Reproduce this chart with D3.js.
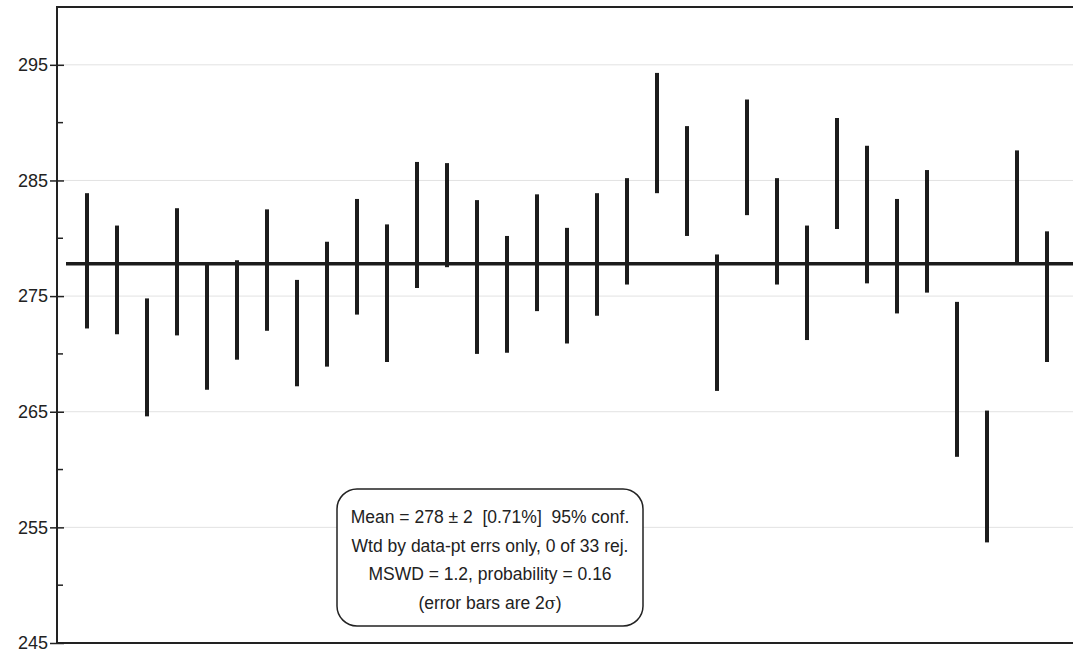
<!DOCTYPE html>
<html>
<head>
<meta charset="utf-8">
<script src="https://cdn.jsdelivr.net/npm/d3@7"></script>
<style>
  body { margin: 0; background: #fff; }
  text { font-family: "Liberation Sans", Arial, sans-serif; fill: #222; }
</style>
</head>
<body>
<div id="chart"></div>
<script>
// error bar ends (2 sigma)
var upper = [283.9, 281.1, 274.8, 282.6, 277.7, 278.1, 282.5, 276.4, 279.7, 283.4,
             281.2, 286.6, 286.5, 283.3, 280.2, 283.8, 280.9, 283.9, 285.2, 294.3,
             289.7, 278.6, 292.0, 285.2, 281.1, 290.4, 288.0, 283.4, 285.9, 274.5,
             265.1, 287.6, 280.6];
var lower = [272.2, 271.7, 264.6, 271.6, 266.9, 269.5, 272.0, 267.2, 268.9, 273.4,
             269.3, 275.7, 277.5, 270.0, 270.1, 273.7, 270.9, 273.3, 276.0, 283.9,
             280.2, 266.8, 282.0, 276.0, 271.2, 280.8, 276.1, 273.5, 275.3, 261.1,
             253.7, 277.9, 269.3];
var meanValue = 277.8;
var majorTicks = [245, 255, 265, 275, 285, 295];
var minorTicks = [250, 260, 270, 280, 290];
var boxLines = [
  "Mean = 278 \u00b1 2  [0.71%]  95% conf.",
  "Wtd by data-pt errs only, 0 of 33 rej.",
  "MSWD = 1.2, probability = 0.16"
];

var svgWidth = 1073;
var svgHeight = 659;
var margin = { top: 7, right: -4, bottom: 16, left: 57 };
var width = svgWidth - margin.left - margin.right;
var height = svgHeight - margin.top - margin.bottom;

var svg = d3.select("#chart")
  .append("svg")
  .attr("width", svgWidth)
  .attr("height", svgHeight);

var chartGroup = svg.append("g")
  .attr("transform", `translate(${margin.left}, ${margin.top})`);

var xScale = d3.scaleLinear()
  .domain([0, upper.length + 1])
  .range([0, width]);

var yScale = d3.scaleLinear()
  .domain([245, 300])
  .range([height, 0]);

// grid lines
chartGroup.selectAll(".grid")
  .data(majorTicks.slice(1))
  .enter()
  .append("line")
  .attr("x1", 0)
  .attr("x2", width)
  .attr("y1", d => yScale(d))
  .attr("y2", d => yScale(d))
  .attr("stroke", "#e2e2e2")
  .attr("stroke-width", 1);

// frame
chartGroup.append("rect")
  .attr("x", 0)
  .attr("y", 0)
  .attr("width", width)
  .attr("height", height)
  .attr("fill", "none")
  .attr("stroke", "#222")
  .attr("stroke-width", 2);

// left axis with ticks crossing the frame
var leftAxis = d3.axisLeft(yScale)
  .tickValues(majorTicks)
  .tickSize(7)
  .tickPadding(6);

var axisG = chartGroup.append("g").call(leftAxis);
axisG.select(".domain").remove();
axisG.selectAll(".tick line")
  .attr("x2", -7)
  .attr("x1", 7)
  .attr("stroke", "#222")
  .attr("stroke-width", 1.5);
axisG.selectAll(".tick text")
  .attr("x", -9)
  .style("font-family", "'Liberation Sans', Arial, sans-serif")
  .style("font-size", "18px")
  .attr("fill", "#222");

chartGroup.selectAll(".minor")
  .data(minorTicks)
  .enter()
  .append("line")
  .attr("x1", 0)
  .attr("x2", 6)
  .attr("y1", d => yScale(d))
  .attr("y2", d => yScale(d))
  .attr("stroke", "#222")
  .attr("stroke-width", 1.5);

// error bars
chartGroup.selectAll(".bar")
  .data(upper)
  .enter()
  .append("line")
  .attr("x1", (d, i) => xScale(i + 1))
  .attr("x2", (d, i) => xScale(i + 1))
  .attr("y1", d => yScale(d))
  .attr("y2", (d, i) => yScale(lower[i]))
  .attr("stroke", "#1c1c1c")
  .attr("stroke-width", 4);

// weighted mean line
chartGroup.append("line")
  .attr("x1", xScale(0.3))
  .attr("x2", width)
  .attr("y1", yScale(meanValue))
  .attr("y2", yScale(meanValue))
  .attr("stroke", "#1c1c1c")
  .attr("stroke-width", 3.5);

// result box
var box = svg.append("g")
  .attr("transform", "translate(490, 489)");

box.append("rect")
  .attr("x", -153)
  .attr("y", 0)
  .attr("width", 306)
  .attr("height", 137)
  .attr("rx", 20)
  .attr("ry", 20)
  .attr("fill", "#fff")
  .attr("stroke", "#222")
  .attr("stroke-width", 1.5);

box.selectAll(".line")
  .data(boxLines)
  .enter()
  .append("text")
  .attr("x", 0)
  .attr("y", (d, i) => 34 + i * 28.5)
  .attr("text-anchor", "middle")
  .style("font-size", "17.5px")
  .style("white-space", "pre")
  .text(d => d);

var last = box.append("text")
  .attr("x", 0)
  .attr("y", 34 + 3 * 28.5)
  .attr("text-anchor", "middle")
  .style("font-size", "17.5px");
last.append("tspan").text("(error bars are 2");
last.append("tspan").style("font-family", "'DejaVu Serif', serif").style("font-size", "16px").text("\u03c3");
last.append("tspan").text(")");
</script>
</body>
</html>
